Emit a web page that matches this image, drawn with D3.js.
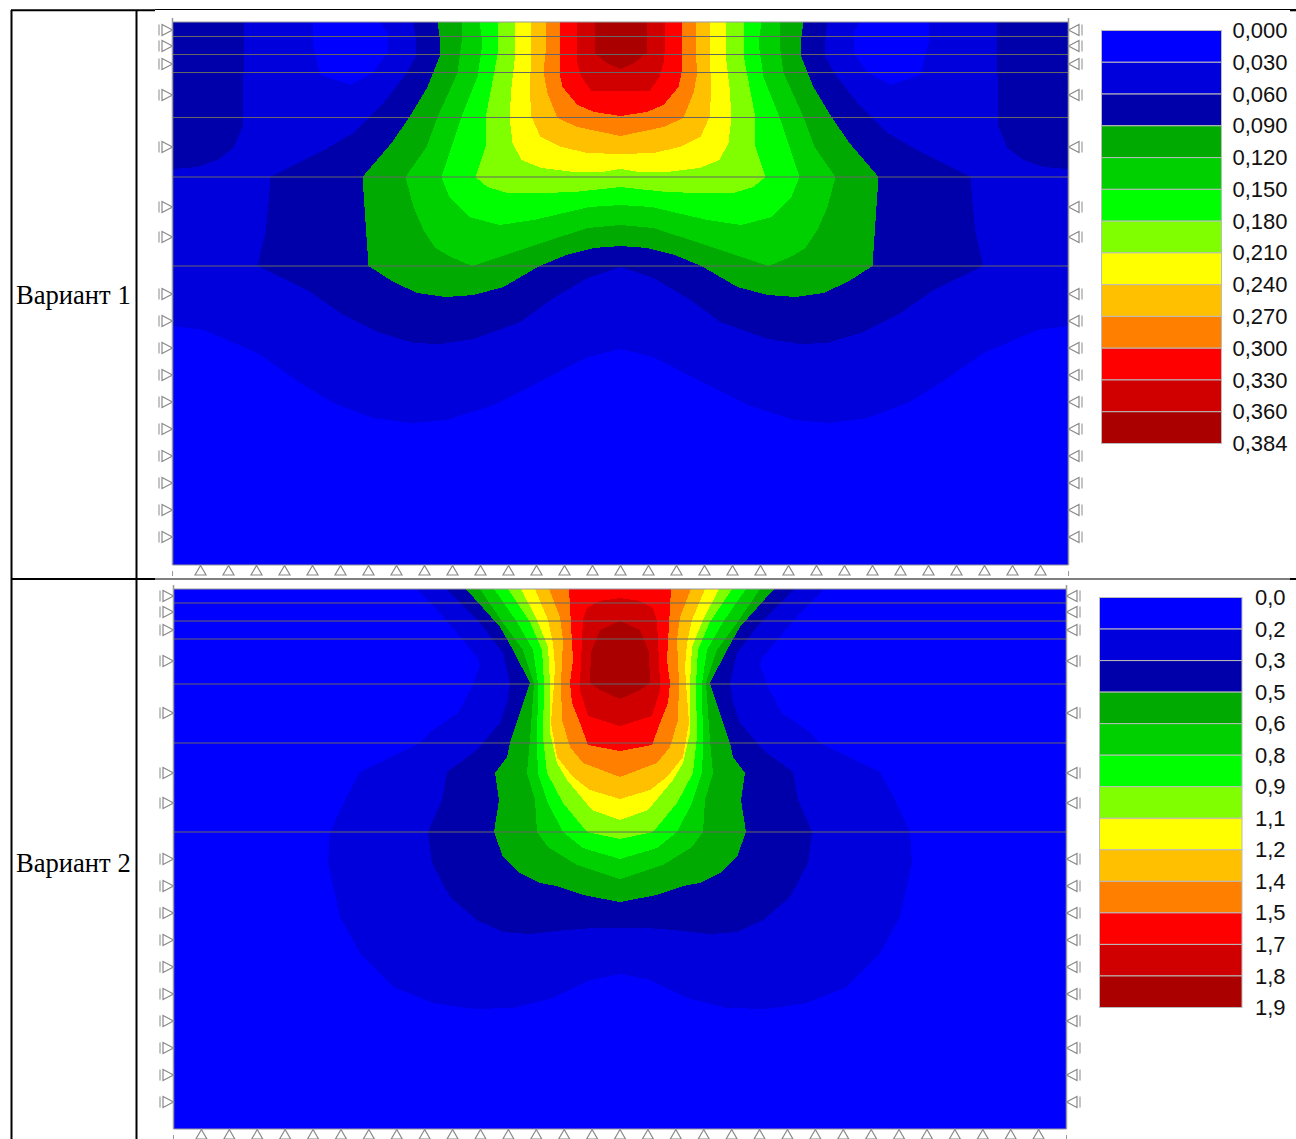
<!DOCTYPE html>
<html>
<head>
<meta charset="utf-8">
<script src="https://cdn.jsdelivr.net/npm/d3@7"></script>
<style>
  body { margin: 0; background: #fff; }
  svg { display: block; }
</style>
</head>
<body>
<div id="chart"></div>
<script>
// Colours of the 13 bands, same for both legends
const bandColors = ["#0000ff", "#0000dd", "#0000aa", "#00aa00", "#00d000", "#00ff00", "#7fff00",
                    "#ffff00", "#ffc000", "#ff8000", "#ff0000", "#d00000", "#aa0000"];

const v1Labels = ["0,000", "0,030", "0,060", "0,090", "0,120", "0,150", "0,180",
                  "0,210", "0,240", "0,270", "0,300", "0,330", "0,360", "0,384"];
const v2Labels = ["0,0", "0,2", "0,3", "0,5", "0,6", "0,8", "0,9",
                  "1,1", "1,2", "1,4", "1,5", "1,7", "1,8", "1,9"];

// Model is symmetric: contours are half outlines as [distance from axis, depth]
const v1Band1 = [[448,0],[448,304],[417,308],[363,331],[320,361],[287,381],[247,396],[210,401],[173,398],[127,383],[83,361],[33,335],[0,327]];
const v1Band2 = [[207,0],[204,21],[205,35],[215,53],[237,81],[267,111],[300,130],[327,143],[350,155],[352,181],[355,211],[363,244],[313,268],[280,291],[243,310],[207,321],[180,322],[147,317],[100,300],[70,278],[33,256],[0,245]];
const v1Band3 = [[183,0],[180,21],[181,35],[193,65],[211,95],[229,121],[258,155],[252,244],[227,260],[203,271],[175,275],[147,273],[117,265],[81,244],[54,233],[27,226],[0,224]];
const v1Band4 = [[159,0],[159,21],[163,51],[183,95],[194,125],[215,155],[207,185],[197,208],[185,226],[170,235],[148,244],[79,221],[33,206],[0,203]];
const v1Band5 = [[141,0],[138,21],[143,55],[159,95],[179,155],[171,175],[151,195],[121,203],[87,198],[31,185],[0,183]];
const v1Band6 = [[123,0],[123,33],[134,91],[135,125],[145,155],[133,165],[113,171],[79,171],[46,170],[0,165]];
const v1Band7 = [[106,0],[105,31],[109,65],[111,95],[108,121],[99,138],[79,146],[46,150],[19,150],[0,147]];
const v1Band8 = [[90,0],[89,35],[91,65],[89,95],[80,115],[59,125],[33,131],[0,132]];
const v1Band9 = [[75,0],[75,31],[77,50],[73,71],[63,96],[43,105],[0,114]];
const v1Band10 = [[61,0],[61,51],[58,65],[43,83],[26,90],[0,94]];
const v1Band11 = [[44,0],[44,31],[43,41],[39,55],[29,69],[0,69]];
const v1Band12 = [[26,0],[26,31],[14,41],[0,47]];
// Closed patches near the top corners, one on each side
const v1Blob = [[308,0],[308,21],[300,53],[270,63],[247,50],[233,31],[233,11],[240,0]];
const v1Corner = [[376,0],[378,105],[387,126],[403,138],[423,145],[448,147],[448,0]];

const v2Band1 = [[204,0],[183,21],[163,44],[143,68],[140,76],[148,98],[162,124],[190,143],[200,154],[260,183],[275,211],[290,243],[292,274],[280,328],[260,364],[227,398],[187,414],[147,420],[107,419],[67,409],[30,391],[0,385]];
const v2Band2 = [[174,0],[140,34],[117,64],[110,94],[113,114],[120,134],[143,161],[173,183],[178,211],[192,243],[188,274],[170,308],[143,331],[117,343],[90,345],[53,341],[27,339],[0,339]];
const v2Band3 = [[154,0],[120,38],[107,61],[90,94],[110,154],[113,168],[125,184],[121,211],[126,243],[117,268],[100,284],[80,294],[63,297],[37,306],[0,313]];
const v2Band4 = [[140,0],[117,34],[97,61],[86,94],[90,151],[93,184],[85,211],[83,243],[72,258],[43,276],[0,290]];
const v2Band5 = [[126,0],[103,33],[87,61],[82,94],[83,158],[82,184],[72,214],[57,243],[37,259],[0,270]];
const v2Band6 = [[112,0],[90,33],[78,61],[76,94],[77,148],[73,184],[57,214],[33,243],[0,250]];
const v2Band7 = [[99,0],[83,31],[72,58],[70,94],[70,144],[63,174],[53,191],[28,221],[0,231]];
const v2Band8 = [[85,0],[72,31],[67,54],[65,78],[66,94],[69,134],[63,168],[47,188],[30,201],[0,210]];
const v2Band9 = [[71,0],[60,28],[57,51],[59,94],[58,131],[50,158],[37,174],[0,188]];
const v2Band10 = [[51,0],[47,71],[50,94],[48,114],[40,134],[32,156],[0,162]];
const v2Band11 = [[0,9],[20,12],[33,19],[37,31],[40,94],[40,101],[32,127],[0,137]];
const v2Band12 = [[0,32],[20,41],[29,63],[30,94],[20,101],[0,110]];

// Layer boundaries and support depths
const v1Layers = [14.5, 32.5, 50.5, 95.5, 155, 244];
const v2Layers = [14, 32, 50, 95, 154, 243];
const v1Supports = [8, 24, 42, 73, 125, 185, 215, 272, 299, 326, 353, 380, 407, 434, 461, 488, 515];
const v2Supports = [7, 23, 41, 72, 124, 184, 214, 270, 297, 324, 351, 378, 405, 432, 459, 486, 513];
const bottomSupports = [-15, -14, -13, -12, -11, -10, -9, -8, -7, -6, -5, -4, -3, -2, -1, 0,
                        1, 2, 3, 4, 5, 6, 7, 8, 9, 10, 11, 12, 13, 14, 15];

const width = 1296;
const height = 1139;

const svg = d3.select("#chart").append("svg")
  .attr("width", width)
  .attr("height", height);

const bandColor = d3.scaleOrdinal().domain(d3.range(13)).range(bandColors);

function drawPanel(cfg) {
  const x = d3.scaleLinear().domain([-cfg.halfWidth, cfg.halfWidth]).range([cfg.left, cfg.right]);
  const y = d3.scaleLinear().domain([0, cfg.depth]).range([cfg.top, cfg.bottom]);
  // the bottom edge has 32 equal grid cells
  const gridX = d3.scaleLinear().domain([-16, 16]).range([cfg.left, cfg.right]);
  const line = d3.line().x(d => x(d[0])).y(d => y(d[1]));
  const g = svg.append("g");

  g.append("rect")
    .attr("x", cfg.left).attr("y", cfg.top)
    .attr("width", cfg.right - cfg.left).attr("height", cfg.bottom - cfg.top)
    .attr("fill", bandColor(0));

  // half outline + its mirror image = one closed band
  const fills = g.append("g").attr("shape-rendering", "crispEdges");
  cfg.shapes.forEach(s => {
    const mirrored = s.pts.map(p => [-p[0], p[1]]);
    if (s.twin) {
      [s.pts, mirrored].forEach(p => {
        fills.append("path").attr("d", line(p) + "Z").attr("fill", bandColor(s.band));
      });
    } else {
      fills.append("path")
        .attr("d", line(s.pts.concat(mirrored.reverse())) + "Z")
        .attr("fill", bandColor(s.band));
    }
  });

  g.selectAll(".layer").data(cfg.layers).enter().append("line")
    .attr("class", "layer")
    .attr("x1", cfg.left).attr("x2", cfg.right)
    .attr("y1", d => y(d)).attr("y2", d => y(d))
    .attr("stroke", "#666").attr("stroke-width", 1);

  // frame
  const frame = "#999";
  g.append("line").attr("x1", cfg.left).attr("x2", cfg.right).attr("y1", cfg.top).attr("y2", cfg.top).attr("stroke", frame);
  g.append("line").attr("x1", cfg.left).attr("x2", cfg.right).attr("y1", cfg.bottom).attr("y2", cfg.bottom).attr("stroke", frame);
  g.append("line").attr("x1", cfg.left).attr("x2", cfg.left).attr("y1", cfg.top - 4).attr("y2", cfg.bottom).attr("stroke", frame).attr("stroke-width", 1.5);
  g.append("line").attr("x1", cfg.right).attr("x2", cfg.right).attr("y1", cfg.top - 4).attr("y2", cfg.bottom).attr("stroke", frame).attr("stroke-width", 1.5);

  // roller supports on both sides
  [[cfg.left, -1], [cfg.right, 1]].forEach(([edge, dir]) => {
    cfg.supports.forEach(d => {
      const py = y(d);
      g.append("path")
        .attr("d", `M${edge},${py}L${edge + dir * 10.5},${py - 5.5}L${edge + dir * 10.5},${py + 5.5}Z`)
        .attr("fill", "#fff").attr("stroke", "#8a8a8a").attr("stroke-width", 1.2);
      g.append("line")
        .attr("x1", edge + dir * 13.5).attr("x2", edge + dir * 13.5)
        .attr("y1", py - 5.5).attr("y2", py + 5.5)
        .attr("stroke", "#8a8a8a");
    });
  });

  bottomSupports.forEach(d => {
    const px = gridX(d);
    g.append("path")
      .attr("d", `M${px},${cfg.bottom + 0.5}L${px - 5.5},${cfg.bottom + 10}L${px + 5.5},${cfg.bottom + 10}Z`)
      .attr("fill", "#fff").attr("stroke", "#8a8a8a").attr("stroke-width", 1.2);
  });
  [cfg.left, cfg.right].forEach(px => {
    g.append("line").attr("x1", px).attr("x2", px)
      .attr("y1", cfg.bottom + 6).attr("y2", cfg.bottom + 11)
      .attr("stroke", "#999");
  });

  // legend
  const legendY = d3.scalePoint().domain(cfg.labels).range([cfg.legendTop, cfg.legendBottom]);
  const lg = svg.append("g");
  cfg.labels.slice(0, -1).forEach((label, i) => {
    lg.append("rect")
      .attr("x", cfg.legendLeft).attr("y", legendY(label))
      .attr("width", cfg.legendRight - cfg.legendLeft)
      .attr("height", legendY(cfg.labels[i + 1]) - legendY(label))
      .attr("fill", bandColor(i))
      .attr("stroke", "#bbb");
  });
  const axis = d3.axisRight(legendY).tickSize(0).tickPadding(cfg.labelPad);
  const axisG = svg.append("g")
    .attr("transform", `translate(${cfg.legendRight},0)`)
    .call(axis);
  axisG.select(".domain").remove();
  axisG.selectAll("text")
    .attr("font-family", "'Liberation Sans', Arial, sans-serif")
    .attr("font-size", 22)
    .attr("fill", "#111");

  svg.append("text")
    .attr("x", 16).attr("y", cfg.captionY)
    .attr("font-family", "'Liberation Serif', 'Times New Roman', serif")
    .attr("font-size", 26.6)
    .attr("fill", "#000")
    .text(cfg.caption);
}

drawPanel({
  left: 172.5, right: 1068.5, top: 22, bottom: 565, halfWidth: 448, depth: 543,
  shapes: [
    {band: 1, pts: v1Band1},
    {band: 0, pts: v1Blob, twin: true},
    {band: 2, pts: v1Corner, twin: true},
    {band: 2, pts: v1Band2}, {band: 3, pts: v1Band3}, {band: 4, pts: v1Band4}, {band: 5, pts: v1Band5},
    {band: 6, pts: v1Band6}, {band: 7, pts: v1Band7}, {band: 8, pts: v1Band8}, {band: 9, pts: v1Band9},
    {band: 10, pts: v1Band10}, {band: 11, pts: v1Band11}, {band: 12, pts: v1Band12}
  ],
  layers: v1Layers, supports: v1Supports, labels: v1Labels, caption: "Вариант 1", captionY: 304,
  legendLeft: 1101.5, legendRight: 1221.5, legendTop: 30.5, legendBottom: 443.5, labelPad: 11
});

drawPanel({
  left: 173.5, right: 1066.5, top: 589, bottom: 1129, halfWidth: 446.5, depth: 540,
  shapes: [
    {band: 1, pts: v2Band1}, {band: 2, pts: v2Band2}, {band: 3, pts: v2Band3}, {band: 4, pts: v2Band4},
    {band: 5, pts: v2Band5}, {band: 6, pts: v2Band6}, {band: 7, pts: v2Band7}, {band: 8, pts: v2Band8},
    {band: 9, pts: v2Band9}, {band: 10, pts: v2Band10}, {band: 11, pts: v2Band11}, {band: 12, pts: v2Band12}
  ],
  layers: v2Layers, supports: v2Supports, labels: v2Labels, caption: "Вариант 2", captionY: 872,
  legendLeft: 1099.5, legendRight: 1242, legendTop: 597.5, legendBottom: 1007.5, labelPad: 13
});

// table rules
const rules = [
  [11.5, 10, 11.5, 1139, 2], [136.5, 10, 136.5, 1139, 2],
  [11, 10.3, 155, 10.3, 2], [155, 9.5, 1296, 9.5, 1.2],
  [11, 579, 155, 579, 2], [155, 579, 1296, 579, 1.2],
  [1290, 10.3, 1296, 10.3, 2], [1290, 579, 1296, 579, 2]
];
svg.selectAll(".rule").data(rules).enter().append("line")
  .attr("class", "rule")
  .attr("x1", d => d[0]).attr("y1", d => d[1])
  .attr("x2", d => d[2]).attr("y2", d => d[3])
  .attr("stroke", "#000")
  .attr("stroke-width", d => d[4]);
</script>
</body>
</html>
